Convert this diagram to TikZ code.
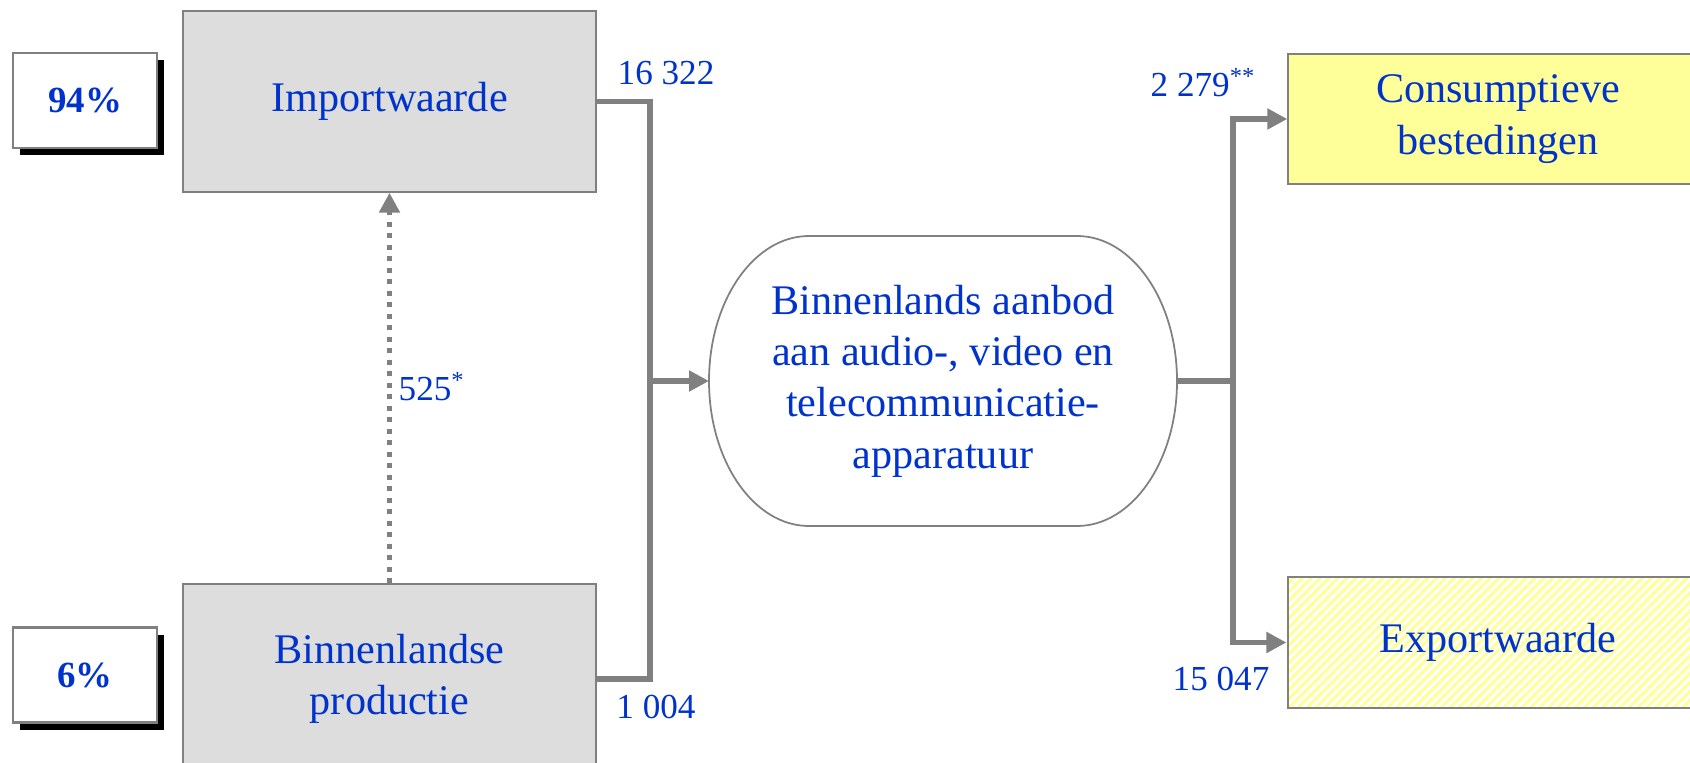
\documentclass[tikz,border=0pt]{standalone}
\usepackage{fontspec}
\setmainfont{Liberation Serif}
\usetikzlibrary{positioning,calc,arrows.meta,shadows,patterns.meta}
\definecolor{TextBlue}{RGB}{0,51,204}
\definecolor{BoxGray}{RGB}{221,221,221}
\definecolor{LineGray}{RGB}{128,128,128}
\definecolor{PaleYellow}{RGB}{255,255,153}

\begin{document}
\begin{tikzpicture}[every node/.style={text=TextBlue, font=\fontsize{12}{14.6}\selectfont},
  box/.style={draw=LineGray, line width=0.4pt, minimum width=4.13cm, align=center, inner sep=0pt},
  share/.style={draw=LineGray, line width=0.6pt, fill=white, minimum width=1.44cm, minimum height=0.95cm,
    font=\fontsize{10.5}{12}\selectfont\bfseries,
    drop shadow={shadow xshift=0.7mm, shadow yshift=-0.7mm, fill=black, opacity=1}},
  num/.style={font=\fontsize{10}{12}\selectfont, inner sep=0pt},
  flow/.style={draw=LineGray, line width=0.55mm},
  tip/.style={-{Triangle[length=2.0mm,width=2.0mm]}}]
  \useasboundingbox (0,0) rectangle (16.90,7.62);
  \node[share] (p1) at (0.85,6.615) {94\%};
  \node[share] (p2) at (0.85,0.87) {6\%};
  \node[box, fill=BoxGray, minimum height=1.81cm] (imp) at (3.895,6.605) {Importwaarde};
  \node[box, fill=BoxGray, minimum height=1.90cm] (prod) at (3.895,0.83) {Binnenlandse\\productie};
  \node[align=center, inner sep=0pt, outer sep=0pt, minimum width=4.68cm, minimum height=2.90cm] (stad) at (9.43,3.81)
    {Binnenlands aanbod\\aan audio-, video en\\telecommunicatie-\\apparatuur};
  \draw[LineGray, line width=0.5pt] (stad.north) -- ($(stad.north east)+(-1.0,0)$)
    arc[start angle=90, end angle=-90, x radius=1.0, y radius=1.45]
    -- ($(stad.south west)+(1.0,0)$)
    arc[start angle=270, end angle=90, x radius=1.0, y radius=1.45] -- cycle;
  \node[box, fill=PaleYellow, minimum width=4.2cm, minimum height=1.30cm] (cons) at (14.98,6.43) {Consumptieve\\bestedingen};
  \node[box, pattern={Lines[angle=45, distance=1.8pt, line width=0.9pt]}, pattern color=PaleYellow,
    minimum width=4.2cm, minimum height=1.31cm] (exp) at (14.98,1.195) {Exportwaarde};
  \coordinate (jl) at (6.50,3.81);
  \coordinate (jr) at (12.33,3.81);
  \draw[flow] (imp.east) -| (jl) |- (prod.east);
  \draw[flow, tip] (jl) -- (stad.west);
  \draw[flow] (stad.east) -- (jr);
  \draw[flow, tip] (jr) |- (cons.west);
  \draw[flow, tip] (jr) |- (exp.west);
  \draw[LineGray, line width=0.55mm, dash pattern=on 0.5mm off 0.65mm, tip] (prod.north) -- (imp.south);
  \node[num] (n1) at (6.66,6.89) {16 322};
  \node[num] (n2) at (6.56,0.55) {1 004};
  \node[num, anchor=base west] (n3) at (11.50,6.65) {2 279\textsuperscript{**}};
  \node[num] (n4) at (12.21,0.83) {15 047};
  \node[num, anchor=base west] (n5) at (3.98,3.61) {525\textsuperscript{*}};
\end{tikzpicture}
\end{document}
